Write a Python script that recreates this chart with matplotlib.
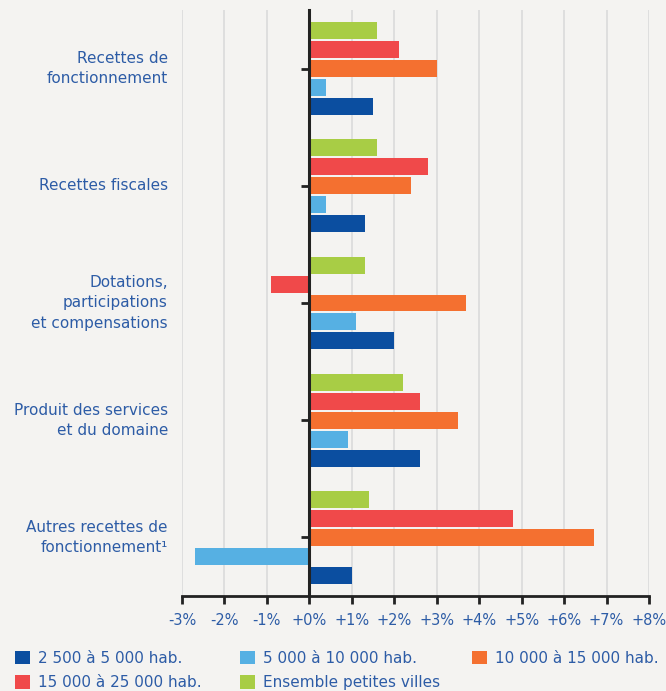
import matplotlib.pyplot as plt
from matplotlib.patches import Patch
from matplotlib.transforms import blended_transform_factory

# data
categories = ["Recettes de\nfonctionnement", "Recettes fiscales",
              "Dotations,\nparticipations\net compensations",
              "Produit des services\net du domaine",
              "Autres recettes de\nfonctionnement\u00b9"]
series_names = ["2 500 à 5 000 hab.", "5 000 à 10 000 hab.", "10 000 à 15 000 hab.",
                "15 000 à 25 000 hab.", "Ensemble petites villes"]
v_2500 = [1.5, 1.3, 2.0, 2.6, 1.0]
v_5000 = [0.4, 0.4, 1.1, 0.9, -2.7]
v_10000 = [3.0, 2.4, 3.7, 3.5, 6.7]
v_15000 = [2.1, 2.8, -0.9, 2.6, 4.8]
v_ens = [1.6, 1.6, 1.3, 2.2, 1.4]
xticks = list(range(-3, 9))
xtick_labels = ["-3%", "-2%", "-1%", "+0%", "+1%", "+2%", "+3%", "+4%",
                "+5%", "+6%", "+7%", "+8%"]

colors = ["#0b4ea0", "#56b0e3", "#f47030", "#f0494a", "#a8cd45"]
bg = "#f4f3f1"
txt = "#2d5ca6"

plt.rcParams['font.family'] = ['DejaVu Sans']

fig = plt.figure(figsize=(6.66, 6.91), dpi=100, facecolor=bg)
ax = fig.add_axes([182 / 666, 1 - 596 / 691, 467 / 666, 586 / 691])
ax.set_facecolor(bg)

slot = 0.162
h = 0.145
# top to bottom in each group: green, red, orange, light blue, dark blue
series = [v_2500, v_5000, v_10000, v_15000, v_ens]
offsets = [2, 1, 0, -1, -2]
for vals, off, c in zip(series, offsets, colors):
    ys = [i + off * slot for i in range(len(categories))]
    ax.barh(ys, vals, height=h, color=c, zorder=3)

ax.set_xlim(-3, 8)
ax.set_ylim(4.5, -0.5)
ax.set_xticks(xticks)
ax.set_xticklabels(xtick_labels, color=txt, fontsize=10.5)
ax.grid(axis="x", color="#dcdcdc", linewidth=1.3, zorder=0)
ax.set_axisbelow(True)

for s in ["top", "right"]:
    ax.spines[s].set_visible(False)
ax.spines["left"].set_position(("data", 0))
ax.spines["left"].set_linewidth(2.2)
ax.spines["left"].set_color("#222222")
ax.spines["left"].set_zorder(4)
ax.spines["bottom"].set_linewidth(2)
ax.spines["bottom"].set_color("#222222")
ax.tick_params(axis="x", direction="out", length=6, width=2, color="#222222", pad=6)
ax.set_yticks(range(len(categories)))
ax.set_yticklabels([])
ax.tick_params(axis="y", direction="out", length=6, width=2, color="#222222")

trans = blended_transform_factory(ax.transAxes, ax.transData)
for i, lab in enumerate(categories):
    ax.text(-0.03, i, lab, transform=trans, ha="right", va="center",
            fontsize=11, color=txt, linespacing=1.45)

# legend: three columns placed at their own x positions
handles = [Patch(facecolor=c, edgecolor="none") for c in colors]
columns = [([0, 3], 15), ([1, 4], 240), ([2], 472)]
for idx, xpx in columns:
    leg = fig.legend([handles[k] for k in idx], [series_names[k] for k in idx],
                     loc="upper left", bbox_to_anchor=(xpx / 666, 1 - 651 / 691),
                     frameon=False, fontsize=11, labelcolor=txt,
                     handlelength=0.95, handleheight=0.95, handletextpad=0.55,
                     labelspacing=0.6, borderpad=0, borderaxespad=0)

fig.savefig("out.png", dpi=100, facecolor=bg)
